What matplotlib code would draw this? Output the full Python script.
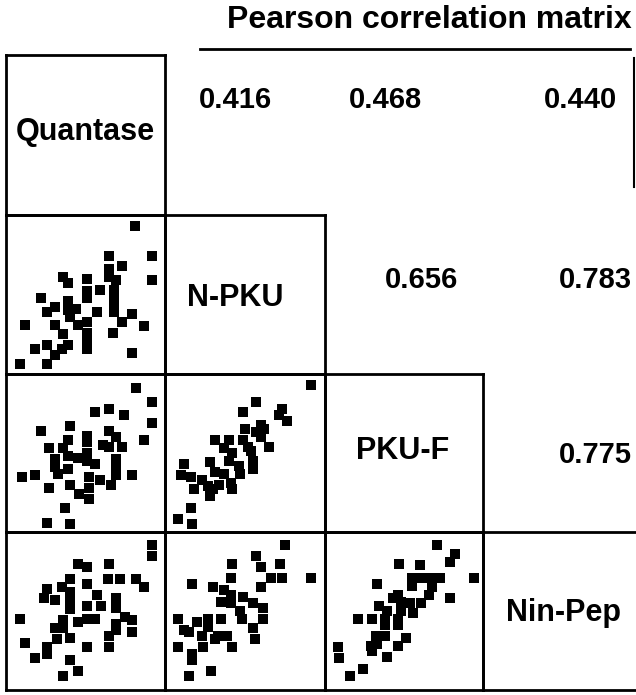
import matplotlib.pyplot as plt
from matplotlib.lines import Line2D

plt.rcParams["font.family"] = ["Liberation Sans", "DejaVu Sans"]
plt.rcParams["font.weight"] = "bold"

labels = ["Quantase", "N-PKU", "PKU-F", "Nin-Pep"]

# correlaciones (fila, columna, valor)
corr_cells = [(0, 1), (0, 2), (0, 3), (1, 2), (1, 3), (2, 3)]
corr_values = ["0.416", "0.468", "0.440", "0.656", "0.783", "0.775"]

# puntos, escala 0-100 dentro de cada panel
quant_npku_x = [81, 92, 65, 73, 65, 65, 69, 92, 36, 39, 51, 22, 39, 51, 51, 59, 68, 68, 68, 68,
                26, 31, 39, 44, 40, 45, 57, 79, 73, 12, 31, 51, 51, 51, 51, 36, 67, 87, 18, 26,
                39, 35, 31, 79, 9, 26]
quant_npku_y = [93, 74, 74, 68, 66, 61, 59, 59, 61, 57, 60, 48, 46, 52, 48, 53, 53, 48, 43, 39,
                39, 42, 40, 41, 36, 31, 39, 38, 33, 31, 31, 33, 26, 21, 16, 25, 26, 30, 16, 18,
                18, 16, 12, 13, 6, 6]

quant_pkuf_x = [82, 92, 56, 65, 74, 92, 40, 22, 65, 69, 51, 51, 87, 39, 27, 36, 39, 45, 61, 65,
                73, 51, 51, 56, 69, 69, 69, 31, 31, 39, 10, 18, 33, 79, 40, 52, 59, 66, 27, 46,
                52, 52, 37, 26, 40]
quant_pkuf_y = [91, 82, 76, 78, 74, 69, 67, 64, 64, 60, 61, 57, 58, 58, 53, 53, 48, 47, 55, 54,
                54, 50, 45, 43, 46, 40, 36, 46, 41, 40, 35, 36, 37, 36, 30, 35, 33, 30, 28, 24,
                28, 21, 15, 6, 5]

npku_pkuf_x = [91, 57, 49, 73, 71, 76, 60, 50, 57, 62, 60, 31, 40, 49, 65, 52, 37, 42, 40, 54,
               55, 55, 46, 12, 28, 10, 16, 23, 31, 37, 27, 34, 41, 47, 42, 18, 28, 30, 16, 8, 17]
npku_pkuf_y = [93, 82, 76, 78, 74, 70, 68, 65, 63, 65, 60, 58, 58, 58, 54, 54, 53, 50, 45, 51,
               45, 40, 42, 43, 44, 36, 35, 33, 38, 37, 29, 30, 31, 37, 27, 27, 23, 27, 15, 8, 5]

quant_ninpep_x = [92, 92, 45, 51, 65, 40, 35, 51, 64, 72, 82, 87, 26, 24, 31, 40, 40, 40, 57, 51,
                  60, 69, 69, 75, 79, 69, 69, 79, 9, 36, 36, 45, 51, 56, 31, 40, 32, 65, 12, 26,
                  26, 51, 65, 18, 40, 45, 36]
quant_ninpep_y = [92, 85, 80, 78, 80, 70, 65, 67, 70, 70, 70, 65, 64, 58, 57, 62, 56, 51, 60, 53,
                  53, 58, 52, 46, 44, 42, 38, 37, 45, 44, 39, 43, 45, 45, 39, 33, 32, 34, 30, 27,
                  23, 27, 27, 20, 19, 12, 9]

npku_ninpep_x = [75, 57, 42, 60, 72, 91, 41, 66, 73, 60, 17, 30, 37, 41, 35, 41, 49, 55, 61, 47,
                 35, 48, 61, 8, 20, 27, 27, 12, 15, 23, 33, 39, 55, 56, 31, 8, 24, 42, 17, 17,
                 29, 15]
npku_ninpep_y = [92, 85, 80, 78, 80, 71, 71, 71, 71, 65, 67, 65, 63, 60, 56, 55, 59, 55, 52, 50,
                 45, 45, 45, 45, 43, 45, 40, 38, 37, 34, 34, 34, 39, 32, 32, 27, 27, 27, 23, 19,
                 12, 9]

pkuf_ninpep_x = [71, 82, 79, 47, 60, 94, 55, 61, 67, 73, 55, 33, 68, 66, 46, 43, 48, 54, 79, 61,
                 34, 39, 48, 56, 21, 30, 38, 46, 38, 46, 51, 32, 38, 33, 29, 46, 8, 30, 39, 9,
                 24, 16]
pkuf_ninpep_y = [92, 86, 81, 80, 79, 71, 71, 71, 71, 71, 66, 67, 65, 60, 60, 58, 56, 55, 58, 55,
                 53, 50, 50, 49, 45, 45, 45, 45, 41, 41, 33, 34, 34, 29, 28, 28, 27, 25, 21, 20,
                 13, 9]

scatter_cells = {
    (1, 0): (quant_npku_x, quant_npku_y),
    (2, 0): (quant_pkuf_x, quant_pkuf_y),
    (2, 1): (npku_pkuf_x, npku_pkuf_y),
    (3, 0): (quant_ninpep_x, quant_ninpep_y),
    (3, 1): (npku_ninpep_x, npku_ninpep_y),
    (3, 2): (pkuf_ninpep_x, pkuf_ninpep_y),
}

# bordes de las celdas en pixeles
W, H = 636, 695
col_edges = [6, 165, 325, 483, 641]
row_edges = [55, 215, 374, 532, 690]

label_pos = [(0.50, 0.52), (0.44, 0.48), (0.49, 0.51), (0.51, 0.49)]
corr_pos = [(0.44, 0.72), (0.38, 0.72), (0.62, 0.72), (0.61, 0.59), (0.71, 0.59), (0.71, 0.49)]

fig = plt.figure(figsize=(W / 100, H / 100), dpi=100)

for i in range(4):
    for j in range(4):
        x0, x1 = col_edges[j], col_edges[j + 1]
        y0, y1 = row_edges[i], row_edges[i + 1]
        ax = fig.add_axes([x0 / W, 1 - y1 / H, (x1 - x0) / W, (y1 - y0) / H])
        ax.set_xlim(0, 100)
        ax.set_ylim(0, 100)
        ax.set_xticks([])
        ax.set_yticks([])
        ax.patch.set_alpha(0)
        for s in ax.spines.values():
            s.set_linewidth(2)
            s.set_visible(j <= i)
        if j == 3:
            ax.spines["right"].set_visible(False)
        if (i, j) in scatter_cells:
            xs, ys = scatter_cells[(i, j)]
            ax.scatter(xs, ys, marker="s", s=55, color="black", linewidths=0)
        elif i == j:
            px, py = label_pos[i]
            ax.text(px, py, labels[i], transform=ax.transAxes, ha="center", va="center",
                    fontsize=22, fontweight="bold")
        else:
            k = corr_cells.index((i, j))
            px, py = corr_pos[k]
            ax.text(px, py, corr_values[k], transform=ax.transAxes, ha="center", va="center",
                    fontsize=21, fontweight="bold")

fig.text(632 / W, 1 - 20 / H, "Pearson correlation matrix", ha="right", va="center",
         fontsize=23, fontweight="bold")
fig.add_artist(Line2D([200 / W, 630 / W], [1 - 49 / H, 1 - 49 / H], color="black", lw=2))
fig.add_artist(Line2D([634 / W, 634 / W], [1 - 58 / H, 1 - 187 / H], color="black", lw=1.5))

fig.savefig("out.png", dpi=100)
